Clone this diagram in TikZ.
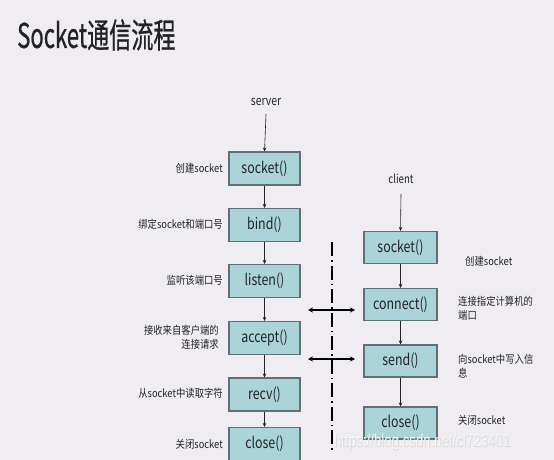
\documentclass[tikz,border=0pt]{standalone}
\usepackage{fontspec}
\setmainfont{Noto Sans CJK SC}
\newfontfamily\titlefont[FakeBold=0.9]{Noto Sans CJK SC}
\newfontfamily\wmfont{Liberation Sans}
\usetikzlibrary{arrows.meta}
\definecolor{bgc}{RGB}{239,237,241}
\definecolor{boxfill}{RGB}{170,212,215}
\definecolor{boxline}{RGB}{95,112,118}
\definecolor{txt}{RGB}{35,35,38}
\newcommand{\nar}[1]{\scalebox{0.8}[1]{#1}}
\tikzset{
  fbox/.style={draw=boxline, fill=boxfill, line width=1.1pt, minimum width=71pt, minimum height=33pt, inner sep=0pt, text=txt, font=\fontsize{15.5}{15.5}\selectfont},
  cbox/.style={fbox, minimum width=73pt, minimum height=32pt},
  lbl/.style={text=txt, font=\fontsize{11}{14}\selectfont, inner sep=0pt},
  flow/.style={draw=txt, line width=0.6pt, -{Stealth[length=4pt,width=3.5pt]}},
  dbl/.style={draw=black, line width=1.3pt, {Stealth[length=5pt,width=5pt]}-{Stealth[length=5pt,width=5pt]}},
  dashdot/.style={draw=black, line width=1.2pt, dash pattern=on 14pt off 4pt on 1.5pt off 4pt}
}
\begin{document}
\begin{tikzpicture}[x=1pt,y=-1pt]
\path[fill=bgc] (0,0) rectangle (554,460);
\useasboundingbox (0,0) rectangle (554,460);
\begin{scope}
\clip (0,0) rectangle (554,460);
% title
\node[anchor=west, inner sep=0pt, text=txt, font=\titlefont\fontsize{34}{34}\selectfont] (title) at (17,35) {\scalebox{0.65}[1]{Socket通信流程}};

% server
\node[lbl, font=\fontsize{13}{13}\selectfont] (server) at (266,102) {\nar{server}};
\node[fbox] (s1) at (264.5,168.5) {\nar{socket()}};
\node[fbox] (s2) at (264.5,225) {\nar{bind()}};
\node[fbox] (s3) at (264.5,281) {\nar{listen()}};
\node[fbox] (s4) at (264.5,338) {\nar{accept()}};
\node[fbox] (s5) at (264.5,394.5) {\nar{recv()}};
\node[fbox] (s6) at (264.5,444) {\nar{close()}};

\draw[flow] (server.south |- 0,114) -- (s1.north);
\draw[flow] (s1) -- (s2);
\draw[flow] (s2) -- (s3);
\draw[flow] (s3) -- (s4);
\draw[flow] (s4) -- (s5);
\draw[flow] (s5) -- (s6);

% server labels
\node[lbl, anchor=east] (l1) at (223,168) {\scalebox{0.85}[1]{创建socket}};
\node[lbl, anchor=east] (l2) at (223,224) {\scalebox{0.85}[1]{绑定socket和端口号}};
\node[lbl, anchor=east] (l3) at (223,280) {\scalebox{0.85}[1]{监听该端口号}};
\node[lbl, anchor=east, align=right] (l4) at (219,337) {\scalebox{0.85}[1]{接收来自客户端的}\\\scalebox{0.85}[1]{连接请求}};
\node[lbl, anchor=east] (l5) at (223,393) {\scalebox{0.85}[1]{从socket中读取字符}};
\node[lbl, anchor=east] (l6) at (223,444) {\scalebox{0.85}[1]{关闭socket}};

% client
\node[lbl, font=\fontsize{12}{12}\selectfont] (client) at (401,179) {\nar{client}};
\node[cbox] (c1) at (400.5,247.5) {\nar{socket()}};
\node[cbox] (c2) at (400.5,304.5) {\nar{connect()}};
\node[cbox] (c3) at (400.5,361) {\nar{send()}};
\node[cbox] (c4) at (400.5,423) {\nar{close()}};

\draw[flow] (client.south |- 0,194) -- (c1.north);
\draw[flow] (c1) -- (c2);
\draw[flow] (c2) -- (c3);
\draw[flow] (c3) -- (c4);

% client labels
\node[lbl, anchor=west] (r1) at (465,261) {\scalebox{0.85}[1]{创建socket}};
\node[lbl, anchor=west, align=left] (r2) at (458,308) {\scalebox{0.85}[1]{连接指定计算机的}\\\scalebox{0.85}[1]{端口}};
\node[lbl, anchor=west, align=left] (r3) at (458,366) {\scalebox{0.85}[1]{向socket中写入信}\\\scalebox{0.85}[1]{息}};
\node[lbl, anchor=west] (r4) at (458,420) {\scalebox{0.85}[1]{关闭socket}};

% separator and exchange arrows
\coordinate (dtop) at (332,242);
\coordinate (dbot) at (332,452);
\draw[dashdot] (dtop) -- (dbot);
\coordinate (a1l) at (308,310);
\coordinate (a1r) at (355,310);
\coordinate (a2l) at (308,359);
\coordinate (a2r) at (355,359);
\draw[dbl] (a1l) -- (a1r);
\draw[dbl] (a2l) -- (a2r);

% watermark
\node[anchor=west, inner sep=0pt, text=white, font=\wmfont\fontsize{17}{17}\selectfont, draw=none] (wm) at (334,442) {\scalebox{0.78}[1]{https://blog.csdn.net/cl723401}};
\node[anchor=west, inner sep=0pt, text=gray!45, opacity=0.5, font=\wmfont\fontsize{17}{17}\selectfont] (wm2) at (334.6,442.6) {\scalebox{0.78}[1]{https://blog.csdn.net/cl723401}};
\end{scope}
\end{tikzpicture}
\end{document}
